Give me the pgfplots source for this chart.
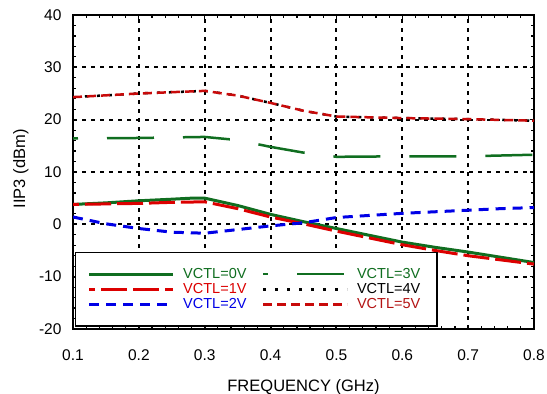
\documentclass[border=0pt]{standalone}
\usepackage{pgfplots}
\pgfplotsset{compat=1.18}
\usepackage{fontspec}
\setmainfont{Liberation Sans}
\definecolor{dgreen}{RGB}{16,110,32}
\definecolor{cred}{RGB}{220,0,0}
\definecolor{cblue}{RGB}{0,0,230}
\definecolor{dred}{RGB}{200,10,10}
\definecolor{dredtxt}{RGB}{180,20,20}
\begin{document}
\begin{tikzpicture}
\begin{axis}[name=ax,
  scale only axis, width=461bp, height=314bp,
  xmin=0.1, xmax=0.8, ymin=-20, ymax=40,
  xtick={0.1,0.2,0.3,0.4,0.5,0.6,0.7,0.8},
  ytick={-20,-10,0,10,20,30,40},
  minor x tick num=4, minor y tick num=4,
  tick align=inside, major tick length=4bp, minor tick length=3bp,
  tick style={black, line width=1.2bp},
  axis line style={line width=2.5bp},
  xmajorgrids, ymajorgrids,
  grid style={black, line width=2bp, dash pattern=on 4bp off 5bp},
  major grid style={black, line width=2bp, dash pattern=on 4bp off 5bp},
  /pgf/number format/assume math mode=true,
  xticklabel style={/pgf/number format/fixed, /pgf/number format/precision=1, /pgf/number format/fixed zerofill, yshift=-17bp},
  yticklabel style={xshift=-8bp},
  ticklabel style={font=\fontsize{15.5bp}{18bp}\selectfont},
  xlabel={FREQUENCY (GHz)}, ylabel={IIP3 (dBm)},
  every axis x label/.style={at={(axis description cs:0.5,-0.185)}, anchor=center, font=\fontsize{16.5bp}{19bp}\selectfont},
  every axis y label/.style={at={(axis description cs:-0.113,0.51)}, rotate=90, anchor=center, font=\fontsize{16.5bp}{19bp}\selectfont},
  legend columns=2,
  legend cell align=left,
  legend image code/.code={\draw[#1] (0bp,0bp) -- (84bp,0bp);},
  legend style={at={(0.0043,0.0064)}, anchor=south west, draw=black, line width=1.5bp, fill=white,
    font=\fontsize{14.5bp}{15bp}\selectfont, inner xsep=12bp, inner ysep=14bp,
    nodes={inner xsep=4.5bp, inner ysep=1.8bp},
    /tikz/every even column/.append style={column sep=11bp},
    /tikz/every odd column/.append style={column sep=4bp}},
]
\addplot[dgreen, line width=3bp] coordinates {
(0.1,3.8)(0.15,4.1)(0.2,4.5)(0.25,4.8)(0.28,5.0)(0.3,5.0)(0.35,3.6)(0.4,1.9)(0.45,0.5)(0.5,-0.8)(0.55,-2.1)(0.6,-3.4)(0.65,-4.4)(0.7,-5.3)(0.75,-6.3)(0.8,-7.3)};
\addlegendentry{\textcolor{dgreen}{VCTL=0V}}
\addplot[dgreen, line width=2.5bp, dash pattern=on 47bp off 29bp, dash phase=42bp] coordinates {
(0.1,16.4)(0.2,16.5)(0.3,16.7)(0.35,16.1)(0.4,14.8)(0.45,13.7)(0.5,12.9)(0.6,13.0)(0.7,13.0)(0.8,13.3)};
\addlegendentry{\textcolor{dgreen}{VCTL=3V}}
\addplot[cred, line width=3bp, dash pattern=on 26bp off 6bp, dash phase=20bp] coordinates {
(0.1,3.8)(0.15,3.9)(0.2,4.0)(0.25,4.2)(0.3,4.3)(0.35,3.0)(0.4,1.4)(0.45,0.1)(0.5,-1.3)(0.55,-2.6)(0.6,-3.9)(0.65,-5.0)(0.7,-6.0)(0.75,-6.8)(0.8,-7.6)};
\addlegendentry{\textcolor{cred}{VCTL=1V}}
\addplot[black, line width=2.5bp, dash pattern=on 3bp off 9bp] coordinates {
(0.1,24.3)(0.2,25.0)(0.3,25.5)(0.35,24.6)(0.4,23.2)(0.45,21.7)(0.5,20.6)(0.6,20.3)(0.7,20.1)(0.8,19.8)};
\addlegendentry{VCTL=4V}
\addplot[cblue, line width=3bp, dash pattern=on 10bp off 7bp] coordinates {
(0.1,1.4)(0.15,0.1)(0.2,-0.8)(0.25,-1.5)(0.3,-1.7)(0.35,-1.0)(0.4,-0.3)(0.45,0.3)(0.5,1.3)(0.55,1.7)(0.6,2.1)(0.65,2.4)(0.7,2.7)(0.75,3.0)(0.8,3.2)};
\addlegendentry{\textcolor{cblue}{VCTL=2V}}
\addplot[dred, line width=2.5bp, dash pattern=on 9bp off 5bp] coordinates {
(0.1,24.3)(0.2,25.0)(0.3,25.5)(0.35,24.6)(0.4,23.2)(0.45,21.7)(0.5,20.6)(0.6,20.3)(0.7,20.1)(0.8,19.8)};
\addlegendentry{\textcolor{dredtxt}{VCTL=5V}}
\end{axis}
\pgfresetboundingbox
\path[use as bounding box] ([shift={(-73bp,-65bp)}]ax.south west) rectangle ([shift={(13bp,15bp)}]ax.north east);
\end{tikzpicture}
\end{document}
